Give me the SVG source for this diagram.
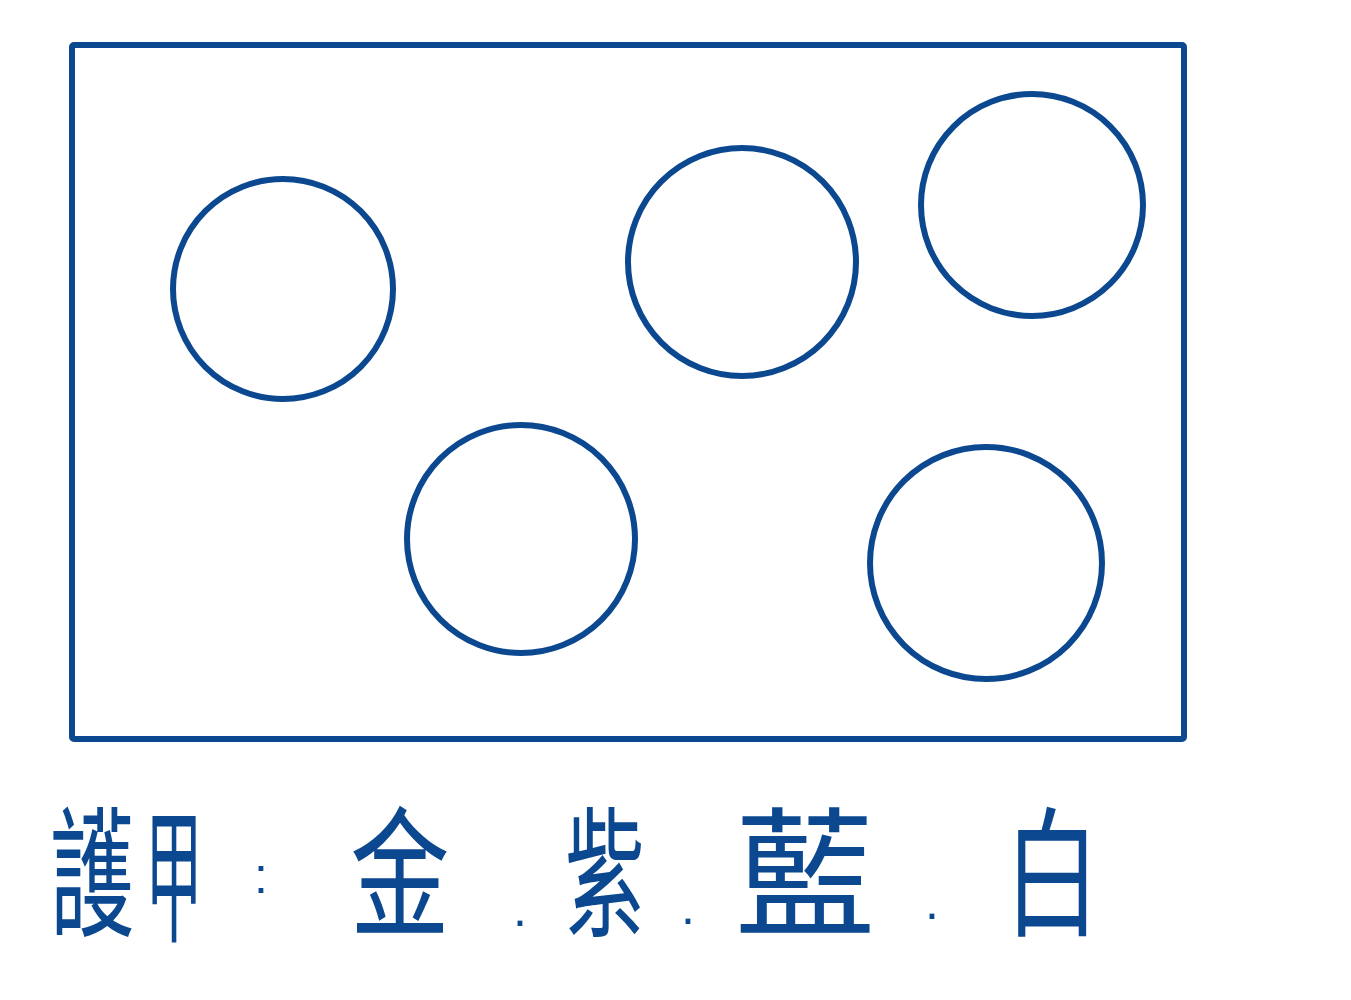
<svg xmlns="http://www.w3.org/2000/svg" width="1351" height="1000" viewBox="0 0 1351 1000">
<style>
.s{fill:none;stroke:#0b4890;stroke-width:6;stroke-linejoin:round}
.t{fill:#0b4890;font-family:"Noto Sans CJK TC","Noto Sans CJK SC",sans-serif;font-size:140px;text-anchor:middle}
.p{fill:#0b4890;font-family:"Liberation Sans",Arial,sans-serif;font-size:50px;text-anchor:middle}
</style>
<rect width="1351" height="1000" fill="#fff"/>
<g id="frame"><rect class="s" x="72" y="45" width="1112" height="694" rx="2"/></g>
<g id="c1"><circle class="s" cx="283" cy="289" r="110"/></g>
<g id="c2"><circle class="s" cx="742" cy="262" r="114"/></g>
<g id="c3"><circle class="s" cx="1032" cy="205" r="111"/></g>
<g id="c4"><circle class="s" cx="521" cy="539" r="114"/></g>
<g id="c5"><circle class="s" cx="986" cy="563" r="116"/></g>
<g id="label">
<text class="t" transform="translate(92,925) scale(0.6,1)">護</text>
<text class="t" transform="translate(174,930) scale(0.41,1.05)">甲</text>
<text class="p" x="261" y="893">:</text>
<text class="t" transform="translate(400,925) scale(0.71,1)">金</text>
<text class="p" x="520" y="926">.</text>
<text class="t" transform="translate(605,925) scale(0.57,1)">紫</text>
<text class="p" x="688" y="924">.</text>
<text class="t" transform="translate(805,925)">藍</text>
<text class="p" x="932" y="919">.</text>
<text class="t" transform="translate(1052,925) scale(0.68,1)">白</text>
</g>
</svg>
